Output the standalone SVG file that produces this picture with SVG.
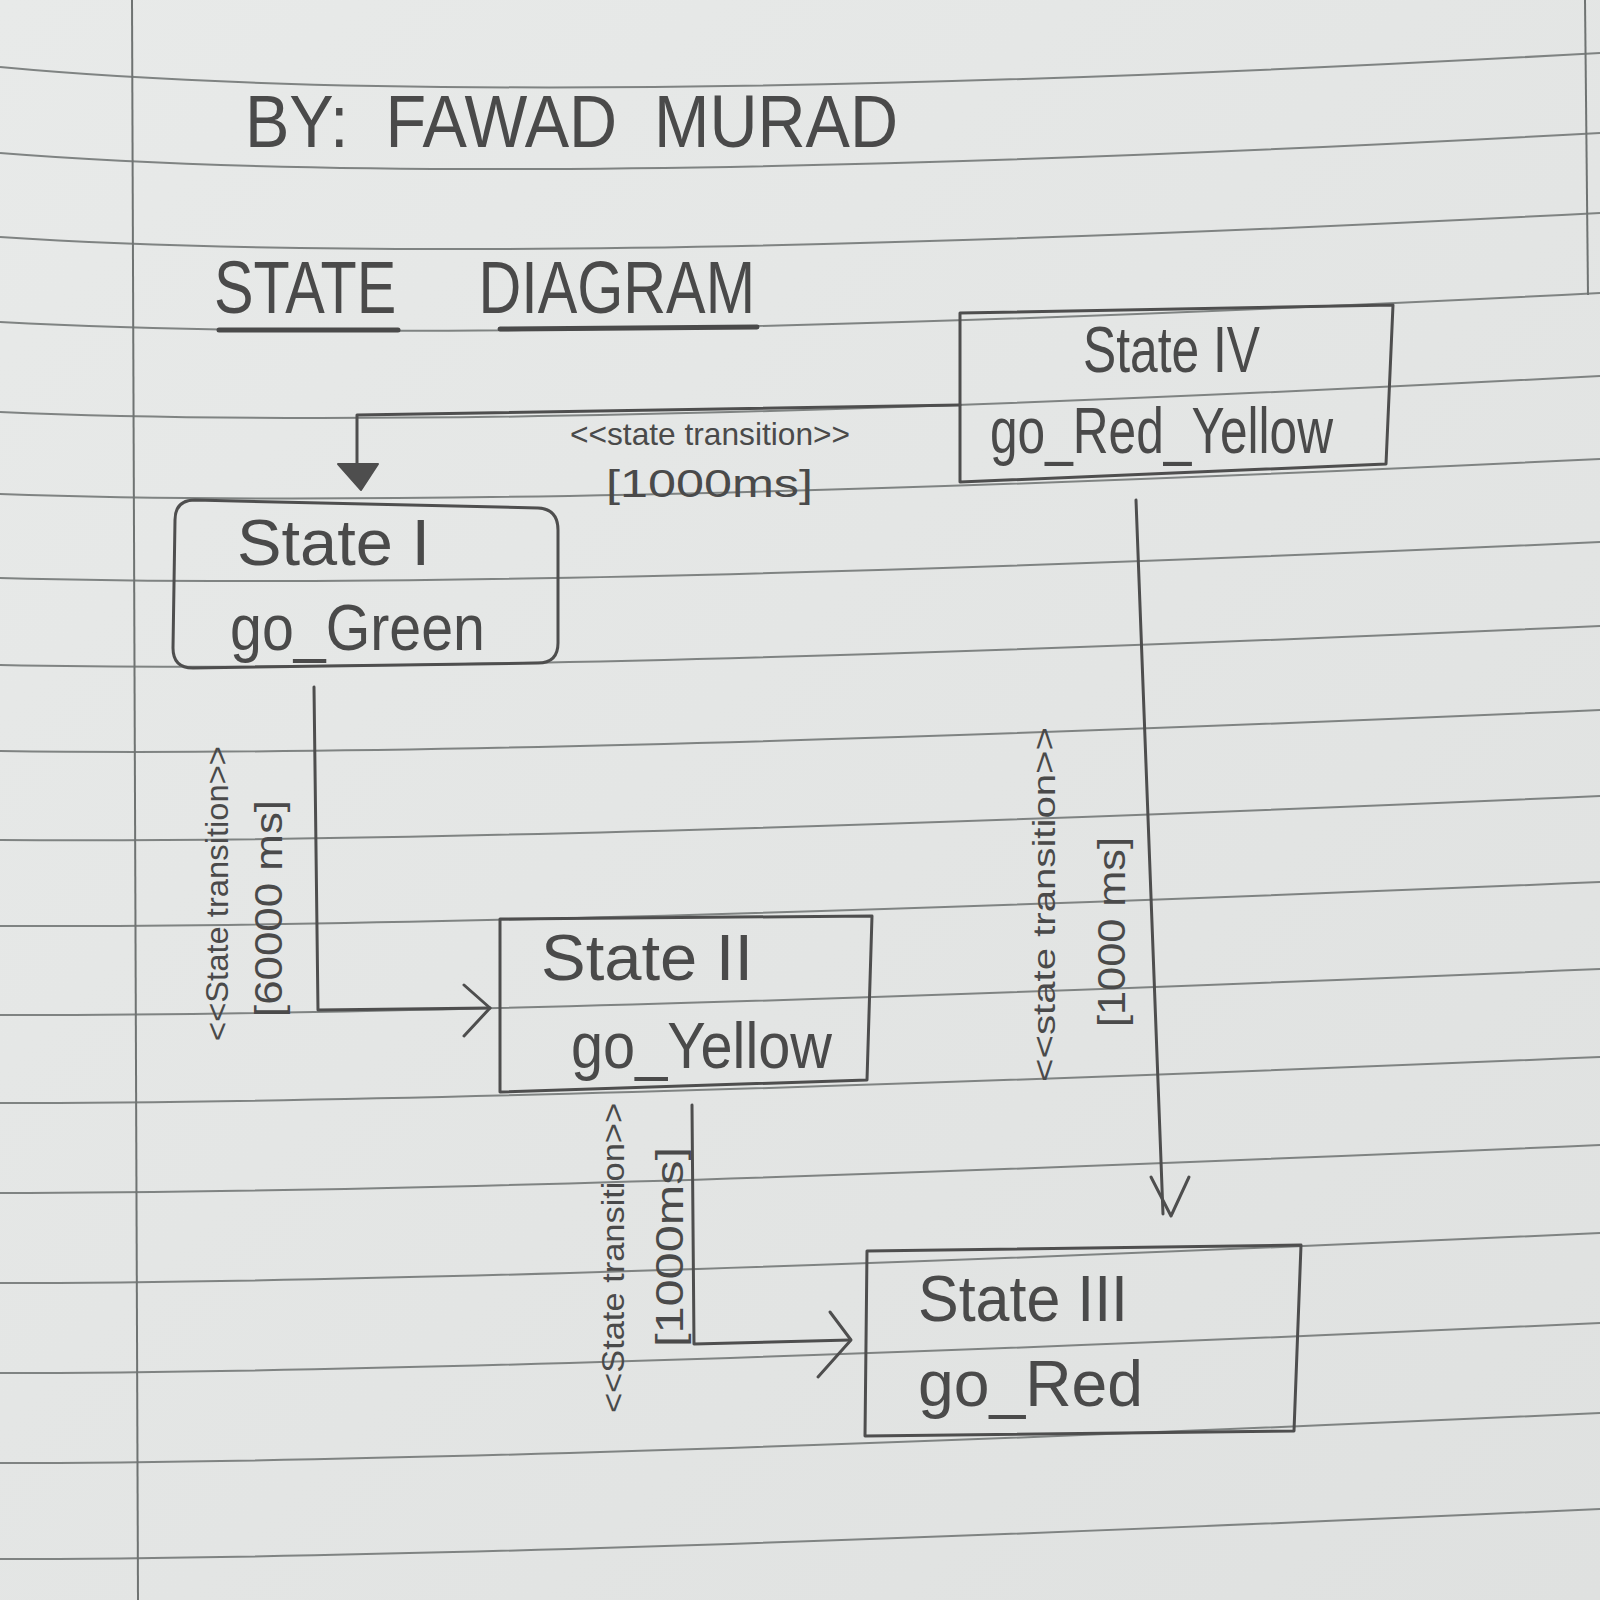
<svg xmlns="http://www.w3.org/2000/svg" width="1600" height="1600" viewBox="0 0 1600 1600">
<defs>
<linearGradient id="paperGrad" x1="0" y1="0" x2="1" y2="1">
<stop offset="0" stop-color="#e8eae9"/>
<stop offset="1" stop-color="#dfe1e0"/>
</linearGradient>
</defs>
<style>
.rule{fill:none;stroke:#7f8382;stroke-width:2}
.margin{fill:none;stroke:#6f7372;stroke-width:2}
.box{fill:none;stroke:#4e4e4e;stroke-width:3;stroke-linejoin:round}
.conn{fill:none;stroke:#4e4e4e;stroke-width:3;stroke-linejoin:round;stroke-linecap:round}
.head{fill:#4e4e4e;stroke:#4e4e4e;stroke-width:2;stroke-linejoin:round}
.t{font-family:"Liberation Sans",Arial,sans-serif;fill:#4a4a4a}
.title{font-size:74px}
.node{font-size:64px}
.lbl{font-size:32px}
.ms{font-size:38px}
.ul{fill:none;stroke:#4a4a4a;stroke-width:5;stroke-linecap:round}
</style>

<g id="paper">
<rect x="0" y="0" width="1600" height="1600" fill="url(#paperGrad)"/>
<path class="rule" d="M0 67 Q500 114 1600 53"/>
<path class="rule" d="M0 153 Q500 193 1600 133"/>
<path class="rule" d="M0 237 Q500 270 1600 213"/>
<path class="rule" d="M0 322 Q500 349 1600 293"/>
<path class="rule" d="M0 412 Q500 434 1600 376"/>
<path class="rule" d="M0 494 Q500 512 1600 459"/>
<path class="rule" d="M0 578 Q500 592 1600 542"/>
<path class="rule" d="M0 665 Q500 675 1600 626"/>
<path class="rule" d="M0 751 Q500 758 1600 710"/>
<path class="rule" d="M0 840 Q500 844 1600 796"/>
<path class="rule" d="M0 926 Q500 928 1600 882"/>
<path class="rule" d="M0 1015 Q500 1016 1600 969"/>
<path class="rule" d="M0 1103 Q500 1103 1600 1057"/>
<path class="rule" d="M0 1193 Q500 1193 1600 1145"/>
<path class="rule" d="M0 1283 Q500 1283 1600 1233"/>
<path class="rule" d="M0 1373 Q500 1373 1600 1323"/>
<path class="rule" d="M0 1463 Q500 1463 1600 1413"/>
<path class="rule" d="M0 1559 Q500 1559 1600 1509"/>
<path class="margin" d="M132 0 L138 1600"/>
<path class="margin" d="M1585 0 L1588 295"/>
</g>

<g id="title">
<text class="t title" x="245" y="147" xml:space="preserve" textLength="653" lengthAdjust="spacingAndGlyphs">BY:  FAWAD  MURAD</text>
<text class="t title" x="214" y="313" font-size="76" xml:space="preserve" textLength="541" lengthAdjust="spacingAndGlyphs">STATE     DIAGRAM</text>
<path class="ul" d="M219 330 L398 330"/>
<path class="ul" d="M500 329 L757 327"/>
</g>

<g id="connectors">
<!-- State IV -> State I -->
<path class="conn" d="M960 405 L357 415 L357 466"/>
<path class="head" d="M338 464 L378 464 L361 490 Z"/>
<!-- State I -> State II -->
<path class="conn" d="M314 687 L318 1010 L490 1008"/>
<path class="conn" d="M464 985 L490 1008 L464 1036"/>
<!-- State II -> State III -->
<path class="conn" d="M692 1105 L694 1344 L850 1340"/>
<path class="conn" d="M830 1312 L851 1340 L818 1377"/>
<!-- State IV -> State III -->
<path class="conn" d="M1136 500 L1163 1214"/>
<path class="conn" d="M1151 1177 L1171 1216 L1189 1177"/>
<!-- labels -->
<text class="t lbl" x="570" y="445" font-size="28" textLength="280" lengthAdjust="spacingAndGlyphs">&lt;&lt;state transition&gt;&gt;</text>
<text class="t ms" x="606" y="497" textLength="207" lengthAdjust="spacingAndGlyphs">[1000ms]</text>
<text class="t lbl" transform="translate(228 1041) rotate(-90)" textLength="295" lengthAdjust="spacingAndGlyphs">&lt;&lt;State transition&gt;&gt;</text>
<text class="t ms" transform="translate(282 1017) rotate(-90)" textLength="217" lengthAdjust="spacingAndGlyphs">[60000 ms]</text>
<text class="t lbl" transform="translate(624 1413) rotate(-90)" textLength="310" lengthAdjust="spacingAndGlyphs">&lt;&lt;State transition&gt;&gt;</text>
<text class="t ms" transform="translate(683 1347) rotate(-90)" textLength="200" lengthAdjust="spacingAndGlyphs">[1000ms]</text>
<text class="t lbl" transform="translate(1055 1082) rotate(-90)" font-size="36" textLength="355" lengthAdjust="spacingAndGlyphs">&lt;&lt;state transition&gt;&gt;</text>
<text class="t ms" transform="translate(1125 1027) rotate(-90)" textLength="190" lengthAdjust="spacingAndGlyphs">[1000 ms]</text>
</g>

<g id="state-iv">
<path class="box" d="M960 313 L1393 305 L1386 464 L960 482 Z"/>
<text class="t node" x="1083" y="372" font-size="62" textLength="177" lengthAdjust="spacingAndGlyphs">State IV</text>
<text class="t node" x="990" y="453" font-size="56" textLength="343" lengthAdjust="spacingAndGlyphs">go_Red_Yellow</text>
</g>

<g id="state-i">
<path class="box" d="M195 500 L538 508 Q558 509 558 530 L558 643 Q558 663 538 663 L193 668 Q173 668 173 648 L175 520 Q175 500 195 500 Z"/>
<text class="t node" x="237" y="565" font-size="66" textLength="193" lengthAdjust="spacingAndGlyphs">State I</text>
<text class="t node" x="230" y="650" font-size="66" textLength="255" lengthAdjust="spacingAndGlyphs">go_Green</text>
</g>

<g id="state-ii">
<path class="box" d="M500 919 L872 916 L867 1080 L500 1092 Z"/>
<text class="t node" x="541" y="980" textLength="212" lengthAdjust="spacingAndGlyphs">State II</text>
<text class="t node" x="571" y="1068" font-size="56" textLength="261" lengthAdjust="spacingAndGlyphs">go_Yellow</text>
</g>

<g id="state-iii">
<path class="box" d="M867 1251 L1301 1245 L1294 1431 L865 1436 Z"/>
<text class="t node" x="918" y="1321" font-size="62" textLength="210" lengthAdjust="spacingAndGlyphs">State III</text>
<text class="t node" x="918" y="1406" textLength="225" lengthAdjust="spacingAndGlyphs">go_Red</text>
</g>
</svg>
